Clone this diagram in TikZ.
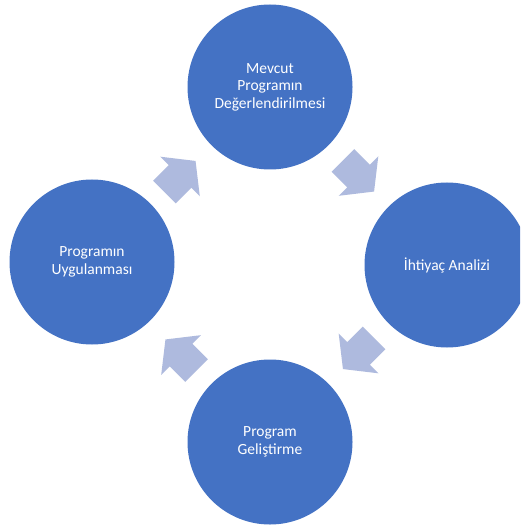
\documentclass[tikz,border=0pt]{standalone}
\usepackage{fontspec}
\setmainfont{Carlito}
\usetikzlibrary{calc}
\definecolor{circblue}{RGB}{68,114,196}
\definecolor{arrowblue}{RGB}{174,186,222}
\tikzset{
  stage/.style={circle, fill=circblue, minimum size=165pt, inner sep=0pt,
    text=white, align=center, font=\fontsize{15.5}{17.5}\selectfont},
  blockarrow/.style={fill=arrowblue}
}
\newcommand{\cyclearrow}[2]{%
  \fill[blockarrow, shift={#1}, rotate=#2]
    (-22pt,-16pt) -- (0pt,-16pt) -- (0pt,-28pt) -- (22pt,0pt) --
    (0pt,28pt) -- (0pt,16pt) -- (-22pt,16pt) -- cycle;}
\begin{document}
\begin{tikzpicture}[x=1pt,y=-1pt]
  \useasboundingbox (0,0) rectangle (520,526);
  \clip (0,0) rectangle (520,526);
  \fill[white] (0,0) rectangle (520,526);
  \node[stage] (t) at (270,87) {Mevcut\\Programın\\Değerlendirilmesi};
  \node[stage] (r) at (447,265) {İhtiyaç Analizi};
  \node[stage] (b) at (270,442) {Program\\Geliştirme};
  \node[stage] (l) at (92,262) {Programın\\Uygulanması};
  \coordinate (a1) at ($(l)!0.5!(t)+(-1,2)$);
  \coordinate (a2) at ($(t)!0.5!(r)$);
  \coordinate (a3) at ($(r)!0.5!(b)$);
  \coordinate (a4) at ($(b)!0.5!(l)+(0,3)$);
  \cyclearrow{(a1)}{45}
  \cyclearrow{(a2)}{-45}
  \cyclearrow{(a3)}{-135}
  \cyclearrow{(a4)}{135}
\end{tikzpicture}
\end{document}
